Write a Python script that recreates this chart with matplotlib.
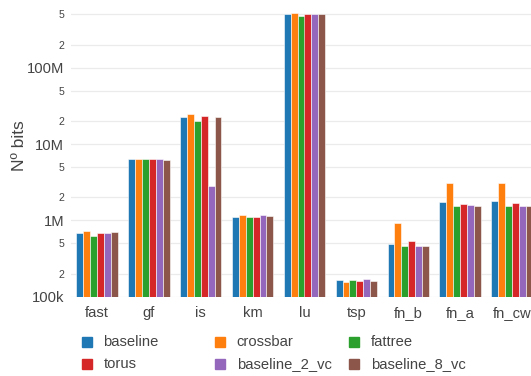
import numpy as np
import matplotlib
matplotlib.use("Agg")
import matplotlib.pyplot as plt
from matplotlib.ticker import FixedLocator, FixedFormatter
from matplotlib.lines import Line2D

plt.rcParams['font.family'] = ['Liberation Sans', 'DejaVu Sans']

categories = ["fast", "gf", "is", "km", "lu", "tsp", "fn_b", "fn_a", "fn_cw"]
series_names = ["baseline", "crossbar", "fattree", "torus", "baseline_2_vc", "baseline_8_vc"]
colors = ["#1f77b4", "#ff7f0e", "#2ca02c", "#d62728", "#9467bd", "#8c564b"]

baseline = [6.8e5, 6.44e6, 2.24e7, 1.12e6, 5.07e8, 1.64e5, 4.86e5, 1.73e6, 1.78e6]
crossbar = [7.3e5, 6.44e6, 2.48e7, 1.18e6, 5.23e8, 1.57e5, 9.33e5, 3.06e6, 3.09e6]
fattree = [6.25e5, 6.44e6, 2.01e7, 1.12e6, 4.82e8, 1.67e5, 4.62e5, 1.53e6, 1.55e6]
torus = [6.8e5, 6.44e6, 2.33e7, 1.11e6, 5.07e8, 1.61e5, 5.32e5, 1.66e6, 1.68e6]
baseline_2_vc = [6.8e5, 6.44e6, 2.85e6, 1.18e6, 5.07e8, 1.72e5, 4.57e5, 1.58e6, 1.55e6]
baseline_8_vc = [7.0e5, 6.25e6, 2.24e7, 1.15e6, 5.07e8, 1.62e5, 4.66e5, 1.53e6, 1.55e6]

series = [baseline, crossbar, fattree, torus, baseline_2_vc, baseline_8_vc]

W, H = 531, 376
fig = plt.figure(figsize=(W / 100, H / 100), dpi=100)
left_px, right_px, bottom_px, top_px = 71, 538, 296.7, 0
ax = fig.add_axes([left_px / W, 1 - bottom_px / H, (right_px - left_px) / W, (bottom_px - top_px) / H])

text_color = "#444444"
n = len(series)
group_w = 0.8
bw = group_w / n
x = np.arange(len(categories))
for i, (name, vals, c) in enumerate(zip(series_names, series, colors)):
    ax.bar(x - group_w / 2 + bw * (i + 0.5), vals, width=bw, color=c,
           edgecolor="white", linewidth=0.4, label=name, zorder=3)

ax.set_yscale("log")
ax.set_ylim(1e5, 10 ** (5 + 296.7 / 76.3))
ax.set_xlim(-0.5, len(categories) - 0.5)

major = [1e5, 1e6, 1e7, 1e8]
major_labels = ["100k", "1M", "10M", "100M"]
minor = []
minor_labels = []
for d in [1e5, 1e6, 1e7, 1e8]:
    for m in [2, 5]:
        minor.append(m * d)
        minor_labels.append(str(m))
ax.yaxis.set_major_locator(FixedLocator(major))
ax.yaxis.set_major_formatter(FixedFormatter(major_labels))
ax.yaxis.set_minor_locator(FixedLocator(minor))
ax.yaxis.set_minor_formatter(FixedFormatter(minor_labels))
ax.tick_params(axis="y", which="major", length=0, pad=5, labelsize=10.6, labelcolor=text_color)
ax.tick_params(axis="y", which="minor", length=0, pad=5, labelsize=7.6, labelcolor=text_color)
ax.grid(True, which="both", axis="y", color="#ebebeb", linewidth=0.9, zorder=0)
ax.set_xticks(x)
ax.set_xticklabels(categories)
ax.tick_params(axis="x", length=0, pad=6.5, labelsize=10.6, labelcolor=text_color)
for s in ax.spines.values():
    s.set_visible(False)

fig.text(20 / W, 1 - 146 / H, "Nº bits", rotation=90, ha="center", va="center",
         fontsize=12.5, color=text_color)

# legend (row-major like the original)
col_x = [87, 220.3, 354.2]
row_y = [342, 364]
for i, (name, c) in enumerate(zip(series_names, colors)):
    r, cidx = divmod(i, 3)
    xm = col_x[cidx]
    ym = row_y[r]
    fig.add_artist(Line2D([xm / W], [1 - ym / H], marker="s", markersize=7, color=c,
                          linestyle="none", transform=fig.transFigure))
    fig.text((col_x[cidx] + 16.5) / W, 1 - ym / H, name, ha="left", va="center",
             fontsize=10.6, color=text_color)

fig.savefig("out.png", dpi=100)
